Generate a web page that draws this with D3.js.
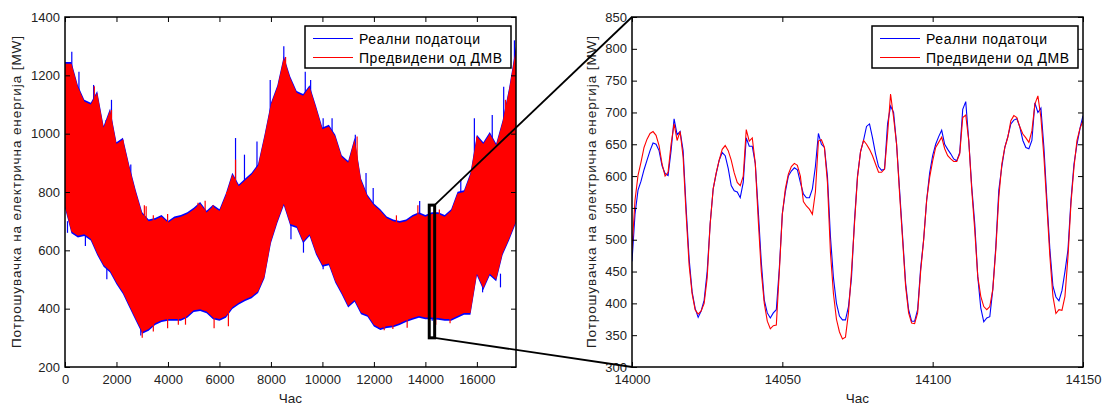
<!DOCTYPE html>
<html>
<head>
<meta charset="utf-8">
<script src="https://cdn.jsdelivr.net/npm/d3@7"></script>
<style>
  body { margin: 0; background: #fff; }
  text { font-family: "Liberation Sans", Arial, sans-serif; }
</style>
</head>
<body>
<div id="chart"></div>
<script>
// overview band, read every 250 h (last point is the end of the series, 17520 h)
var bandHours = d3.range(0, 17500, 250).concat([17520])
var redUpper = [1240, 1240, 1160, 1110, 1100, 1140, 1020, 1080, 965, 980,
  885, 800, 725, 700, 705, 715, 695, 710, 715, 725,
  740, 760, 730, 750, 735, 790, 860, 820, 840, 860,
  890, 990, 1100, 1160, 1260, 1190, 1140, 1130, 1160, 1090,
  1015, 1025, 990, 920, 900, 980, 840, 785, 755, 735,
  710, 700, 695, 700, 715, 725, 715, 725, 725, 715,
  735, 795, 800, 860, 990, 965, 1000, 960, 1040, 1150,
  1290]
var redLower = [750, 665, 650, 655, 640, 590, 550, 530, 490, 456,
  410, 365, 320, 330, 350, 360, 365, 365, 365, 375,
  395, 398, 390, 370, 365, 375, 405, 420, 432, 442,
  460, 510, 630, 700, 760, 690, 683, 630, 655, 592,
  550, 555, 495, 455, 410, 430, 387, 378, 345, 333,
  340, 342, 350, 360, 368, 375, 370, 370, 368, 365,
  365, 375, 385, 385, 520, 470, 520, 500, 590, 640,
  700]
var blueUpper = [1246, 1246, 1166, 1116, 1106, 1146, 1026, 1086, 971, 986,
  891, 806, 731, 706, 711, 721, 701, 716, 721, 731,
  746, 766, 736, 756, 741, 796, 866, 826, 846, 866,
  896, 996, 1106, 1166, 1266, 1196, 1146, 1136, 1166, 1096,
  1021, 1031, 996, 926, 906, 986, 846, 791, 761, 741,
  716, 706, 701, 706, 721, 731, 721, 731, 731, 721,
  741, 801, 806, 866, 996, 971, 1006, 966, 1046, 1156,
  1300]
var blueLower = [744, 659, 644, 649, 634, 584, 544, 524, 484, 450,
  404, 359, 314, 324, 344, 354, 359, 359, 359, 369,
  389, 392, 384, 364, 359, 369, 399, 414, 426, 436,
  454, 504, 624, 694, 754, 684, 677, 624, 649, 586,
  544, 549, 489, 449, 404, 424, 381, 372, 339, 327,
  334, 336, 344, 354, 362, 369, 364, 364, 362, 359,
  359, 369, 379, 379, 514, 464, 514, 494, 584, 634,
  694]
// single hours sticking out of the band: [hour, from MW, to MW]
var blueSpikes = [[264, 1150, 1281], [542, 1100, 1212], [1111, 1050, 1167], [1597, 950, 1047],
  [1806, 1000, 1116], [2556, 820, 894], [6625, 800, 985], [6972, 780, 928], [7458, 820, 973],
  [7972, 1000, 1184], [8500, 1200, 1300], [9333, 1080, 1212], [9542, 1100, 1184],
  [10028, 950, 1053], [10375, 950, 1053], [11278, 900, 996], [11694, 760, 865],
  [11972, 700, 814], [13778, 700, 769], [15167, 700, 763], [15375, 760, 843],
  [15903, 800, 1053], [16597, 950, 1064], [17042, 1000, 1161], [17458, 1200, 1320],
  [97, 700, 660], [792, 680, 615], [1625, 560, 501], [2111, 520, 490], [2667, 420, 393],
  [2944, 340, 308], [8778, 700, 638], [9264, 650, 592], [10028, 580, 535], [11000, 450, 416],
  [12181, 380, 331], [14264, 400, 359], [16222, 500, 456], [16917, 520, 473]]
var redSpikes = [[1139, 1100, 1163], [1806, 1000, 1081], [2250, 900, 979], [3153, 650, 751],
  [5167, 700, 763], [6625, 800, 911], [8569, 1200, 1263], [11347, 900, 990],
  [16000, 900, 990], [17111, 1000, 1116], [3000, 360, 300], [12400, 360, 326],
  [3083, 680, 755], [3431, 680, 720], [3986, 680, 725], [5444, 700, 770], [5750, 700, 755],
  [6278, 750, 800], [12875, 680, 720], [13708, 680, 755], [14542, 680, 740], [15097, 700, 755],
  [3431, 360, 322], [3986, 370, 333], [4403, 380, 345], [4681, 380, 345], [5792, 380, 333],
  [6347, 390, 340], [12736, 360, 330], [13292, 370, 335], [14403, 380, 345], [14958, 380, 350]]

// detail: hours 14000 .. 14150
var detailStart = 14000
var realLoad = [466, 540, 578, 592, 610, 625, 640, 652, 650, 640,
  616, 604, 601, 640, 690, 665, 670, 640, 550, 470,
  418, 392, 378, 388, 405, 450, 525, 580, 604, 625,
  637, 632, 612, 585, 577, 575, 566, 590, 660, 647,
  647, 620, 545, 465, 405, 385, 377, 385, 390, 455,
  541, 575, 600, 608, 613, 610, 590, 572, 566, 566,
  580, 615, 667, 650, 645, 600, 505, 440, 400, 380,
  374, 374, 395, 440, 530, 600, 638, 656, 678, 682,
  660, 635, 615, 609, 611, 682, 710, 700, 650, 578,
  505, 432, 390, 372, 372, 390, 455, 500, 562, 605,
  632, 650, 662, 672, 650, 642, 635, 627, 624, 637,
  705, 717, 656, 583, 525, 442, 393, 371, 377, 379,
  422, 489, 578, 615, 645, 662, 682, 688, 690, 677,
  656, 645, 643, 656, 715, 700, 707, 645, 562, 484,
  427, 410, 404, 420, 450, 484, 562, 619, 650, 675,
  695]
var predLoad = [484, 562, 601, 622, 645, 658, 667, 670, 664, 648,
  619, 600, 606, 650, 682, 656, 670, 630, 540, 460,
  415, 390, 383, 388, 400, 440, 525, 580, 605, 625,
  642, 648, 640, 625, 605, 590, 585, 600, 673, 655,
  660, 620, 530, 450, 400, 372, 360, 365, 366, 450,
  540, 580, 603, 615, 620, 617, 600, 560, 553, 548,
  540, 575, 655, 657, 645, 590, 480, 415, 375, 355,
  344, 347, 385, 450, 525, 598, 638, 656, 650, 642,
  632, 619, 606, 606, 611, 666, 729, 692, 650, 572,
  500, 427, 385, 369, 368, 385, 450, 500, 562, 598,
  624, 645, 653, 661, 643, 632, 627, 623, 623, 635,
  692, 696, 656, 578, 515, 442, 411, 395, 390, 395,
  422, 484, 567, 619, 645, 661, 687, 695, 692, 677,
  666, 660, 653, 671, 713, 726, 692, 630, 552, 473,
  411, 384, 390, 389, 411, 473, 557, 614, 656, 675,
  687]

var leftXTicks = [0, 2000, 4000, 6000, 8000, 10000, 12000, 14000, 16000]
var leftYTicks = [200, 400, 600, 800, 1000, 1200, 1400]
var rightXTicks = [14000, 14050, 14100, 14150]
var rightYTicks = [300, 350, 400, 450, 500, 550, 600, 650, 700, 750, 800, 850]
var zoomBoxHours = [14150, 14360]
var zoomBoxMW = [300, 755]

var seriesNames = ['Реални податоци', 'Предвидени од ДМВ']
var seriesColors = ['#0000ff', '#ff0000']
var yTitle = 'Потрошувачка на електрична енергија  [MW]'
var xTitle = 'Час'

var width = 1112
var height = 406
var tickLen = 5

var svg = d3.select('#chart').append('svg')
  .attr('width', width)
  .attr('height', height)

svg.append('rect').attr('width', width).attr('height', height).attr('fill', '#fff')

function panel (name, box, xDomain, yDomain, xTicks, yTicks, titleX) {
  var x = d3.scaleLinear().domain(xDomain).range([box.left, box.right])
  var y = d3.scaleLinear().domain(yDomain).range([box.bottom, box.top])

  svg.append('clipPath').attr('id', 'clip-' + name)
    .append('rect')
    .attr('x', box.left).attr('y', box.top)
    .attr('width', box.right - box.left).attr('height', box.bottom - box.top)

  var plot = svg.append('g').attr('clip-path', 'url(#clip-' + name + ')')

  var axes = svg.append('g').attr('class', 'axes')

  function styleAxis (g) {
    g.select('.domain').remove()
    g.selectAll('.tick line').attr('stroke', '#000').attr('stroke-width', 1)
    g.selectAll('.tick text').attr('fill', '#222').attr('font-size', 13)
  }

  axes.append('g')
    .attr('transform', 'translate(0,' + box.bottom + ')')
    .call(d3.axisBottom(x).tickValues(xTicks).tickSize(-tickLen).tickPadding(8).tickFormat(d3.format('d')))
    .call(styleAxis)
  axes.append('g')
    .attr('transform', 'translate(0,' + box.top + ')')
    .call(d3.axisTop(x).tickValues(xTicks).tickSize(-tickLen).tickFormat(''))
    .call(styleAxis)
  axes.append('g')
    .attr('transform', 'translate(' + box.left + ',0)')
    .call(d3.axisLeft(y).tickValues(yTicks).tickSize(-tickLen).tickPadding(5).tickFormat(d3.format('d')))
    .call(styleAxis)
  axes.append('g')
    .attr('transform', 'translate(' + box.right + ',0)')
    .call(d3.axisRight(y).tickValues(yTicks).tickSize(-tickLen).tickFormat(''))
    .call(styleAxis)

  axes.append('rect')
    .attr('x', box.left).attr('y', box.top)
    .attr('width', box.right - box.left).attr('height', box.bottom - box.top)
    .attr('fill', 'none').attr('stroke', '#000').attr('stroke-width', 1.5)

  svg.append('text')
    .attr('transform', 'translate(' + titleX + ',' + (box.top + box.bottom) / 2 + ') rotate(-90)')
    .attr('text-anchor', 'middle')
    .attr('font-size', 13.5)
    .attr('fill', '#222')
    .attr('textLength', 312)
    .attr('lengthAdjust', 'spacing')
    .text(yTitle)

  svg.append('text')
    .attr('x', (box.left + box.right) / 2)
    .attr('y', 403)
    .attr('text-anchor', 'middle')
    .attr('font-size', 13.5)
    .attr('fill', '#222')
    .text(xTitle)

  return { x: x, y: y, plot: plot, axes: axes, box: box }
}

var legendTextLen = [121, 143]

function legend (p) {
  var lx = p.box.right - 211
  var ly = p.box.top + 9
  var g = svg.append('g')
  g.append('rect')
    .attr('x', lx).attr('y', ly).attr('width', 206).attr('height', 42)
    .attr('fill', '#fff').attr('stroke', '#000').attr('stroke-width', 1.5)
  seriesNames.forEach(function (s, i) {
    var ry = ly + 12.5 + i * 19
    g.append('line')
      .attr('x1', lx + 8).attr('x2', lx + 48)
      .attr('y1', ry).attr('y2', ry)
      .attr('stroke', seriesColors[i]).attr('stroke-width', 1)
    g.append('text')
      .attr('x', lx + 54).attr('y', ry + 5)
      .attr('font-size', 14)
      .attr('fill', '#000')
      .attr('textLength', legendTextLen[i])
      .attr('lengthAdjust', 'spacing')
      .text(s)
  })
}

function spikes (p, data, color) {
  p.plot.append('g').selectAll('line')
    .data(data)
    .enter().append('line')
    .attr('x1', function (d) { return p.x(d[0]) })
    .attr('x2', function (d) { return p.x(d[0]) })
    .attr('y1', function (d) { return p.y(d[1]) })
    .attr('y2', function (d) { return p.y(d[2]) })
    .attr('stroke', color)
    .attr('stroke-width', 1.2)
}

// left: the whole series
var left = panel('left', { left: 65, right: 516, top: 17, bottom: 367 },
  [0, 17520], [200, 1400], leftXTicks, leftYTicks, 21)

var bandIdx = d3.range(bandHours.length)

left.plot.append('path')
  .datum(bandIdx)
  .attr('fill', seriesColors[0])
  .attr('d', d3.area()
    .x(function (i) { return left.x(bandHours[i]) })
    .y0(function (i) { return left.y(blueLower[i]) })
    .y1(function (i) { return left.y(blueUpper[i]) }))

spikes(left, blueSpikes, seriesColors[0])

left.plot.append('path')
  .datum(bandIdx)
  .attr('fill', seriesColors[1])
  .attr('d', d3.area()
    .x(function (i) { return left.x(bandHours[i]) })
    .y0(function (i) { return left.y(redLower[i]) })
    .y1(function (i) { return left.y(redUpper[i]) }))

spikes(left, redSpikes, seriesColors[1])

left.axes.raise()
legend(left)

// right: hours 14000 - 14150
var right = panel('right', { left: 632, right: 1083, top: 17, bottom: 367 },
  [14000, 14150], [300, 850], rightXTicks, rightYTicks, 595.5)

var line = d3.line()
  .x(function (d, i) { return right.x(detailStart + i) })
  .y(function (d) { return right.y(d) })

right.plot.append('path')
  .datum(realLoad)
  .attr('fill', 'none')
  .attr('stroke', seriesColors[0])
  .attr('stroke-width', 1.1)
  .attr('d', line)

right.plot.append('path')
  .datum(predLoad)
  .attr('fill', 'none')
  .attr('stroke', seriesColors[1])
  .attr('stroke-width', 1.1)
  .attr('d', line)

right.axes.raise()
legend(right)

// zoom box and connectors
var bx0 = left.x(zoomBoxHours[0])
var bx1 = left.x(zoomBoxHours[1])
var by0 = left.y(zoomBoxMW[1])
var by1 = left.y(zoomBoxMW[0])

svg.append('rect')
  .attr('x', bx0).attr('y', by0)
  .attr('width', bx1 - bx0).attr('height', by1 - by0)
  .attr('fill', 'none').attr('stroke', '#000').attr('stroke-width', 3)

svg.append('line')
  .attr('x1', bx1).attr('y1', by0)
  .attr('x2', right.box.left).attr('y2', right.box.top)
  .attr('stroke', '#000').attr('stroke-width', 1.8)

svg.append('line')
  .attr('x1', bx1).attr('y1', by1)
  .attr('x2', right.box.left).attr('y2', right.box.bottom)
  .attr('stroke', '#000').attr('stroke-width', 1.8)
</script>
</body>
</html>
